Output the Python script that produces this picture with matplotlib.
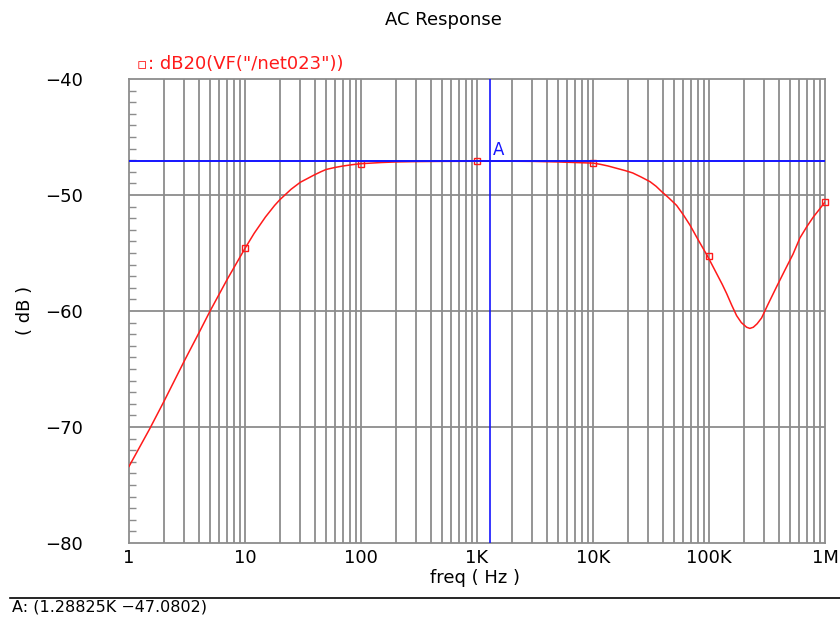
import numpy as np
import matplotlib
matplotlib.use("Agg")
import matplotlib.pyplot as plt
from matplotlib.ticker import FixedLocator, NullFormatter, NullLocator

# ---- data ----
freq_hz = [1, 1.5, 2, 3, 4, 5, 7, 10, 12, 15, 18, 20, 25, 30, 35, 39, 45, 50,
           60, 70, 85, 100, 150, 200, 300, 500,
           1000, 2000, 3000, 5000, 7000, 10000, 11500, 13500, 16000, 19000,
           22000, 26000, 31000, 35000, 39000, 45000, 52600, 60000, 68600,
           80000, 97500, 116000, 130000, 142000, 157000, 173000, 190000,
           211000, 225000, 241000, 260000, 284000, 320000, 383000, 450000,
           530000, 608000, 700000, 793000, 900000, 1000000]
mag_db = [-73.4, -70.2, -67.8, -64.3, -61.9, -60.0, -57.3, -54.6, -53.3, -51.9,
          -50.9, -50.4, -49.5, -48.9, -48.55, -48.3, -48.0, -47.8,
          -47.62, -47.5, -47.38, -47.3, -47.2, -47.15, -47.12, -47.1,
          -47.09, -47.09, -47.1, -47.15, -47.2, -47.25, -47.35, -47.5, -47.7,
          -47.9, -48.1, -48.45, -48.85, -49.25, -49.7, -50.25, -50.9, -51.7,
          -52.6, -53.8, -55.3, -56.75, -57.7, -58.5, -59.5, -60.4, -61.0,
          -61.4, -61.5, -61.4, -61.1, -60.6, -59.5, -57.9, -56.5,
          -55.1, -53.7, -52.7, -51.9, -51.2, -50.6]
marker_freq = [10, 100, 1000, 10000, 100000, 1000000]
marker_db = [-54.6, -47.3, -47.1, -47.25, -55.3, -50.6]

cursor_freq = 1288.25
cursor_db = -47.0802

xtick_vals = [1, 10, 100, 1e3, 1e4, 1e5, 1e6]
xtick_labels = ["1", "10", "100", "1K", "10K", "100K", "1M"]
ytick_vals = [-80, -70, -60, -50, -40]
ytick_labels = ["\u221280", "\u221270", "\u221260", "\u221250", "\u221240"]

grid_c = "#8c8c8c"
W, H = 840, 617
fig = plt.figure(figsize=(W / 100, H / 100), dpi=100)
ax = fig.add_axes([129 / W, 1 - 543 / H, 696 / W, 464 / H])
ax.set_xscale("log")
ax.set_xlim(1, 1e6)
ax.set_ylim(-80, -40)

# grid
minor_x = [m * 10 ** d for d in range(0, 6) for m in range(2, 10)]
for xv in minor_x + xtick_vals[1:-1]:
    ax.axvline(xv, color=grid_c, lw=1.3, zorder=1)
for yv in ytick_vals[1:-1]:
    ax.axhline(yv, color=grid_c, lw=1.3, zorder=1)

ax.plot(freq_hz, mag_db, color="#ff1a1a", lw=1.1, zorder=3)
ax.plot(marker_freq, marker_db, ls="none", marker="s", ms=4.5, mfc="none",
        mec="#ff1a1a", mew=1.0, zorder=4, clip_on=False)

ax.axhline(cursor_db, color="#1414ff", lw=1.4, zorder=5)
ax.axvline(cursor_freq, color="#1414ff", lw=1.2, zorder=5)
ax.text(cursor_freq * 1.06, cursor_db + 0.2, "A", color="#1414ff",
        fontsize=12, ha="left", va="bottom", zorder=6)

for s in ax.spines.values():
    s.set_color(grid_c)
    s.set_linewidth(1.3)

ax.xaxis.set_major_locator(FixedLocator(xtick_vals))
ax.set_xticklabels(xtick_labels)
ax.xaxis.set_minor_locator(NullLocator())
ax.xaxis.set_minor_formatter(NullFormatter())
ax.tick_params(axis="x", which="major", length=0, pad=4, labelsize=13)
ax.yaxis.set_major_locator(FixedLocator(ytick_vals))
ax.set_yticklabels(ytick_labels)
ax.yaxis.set_minor_locator(FixedLocator(np.arange(-80, -40, 1)))
ax.tick_params(axis="y", which="major", length=0, pad=33, labelsize=13)
ax.tick_params(axis="y", which="minor", direction="in", length=5, width=1,
               color=grid_c)

fig.text(443 / W, 1 - 20 / H, "AC Response", ha="center", va="center",
         fontsize=13)
fig.text(137 / W, 1 - 65 / H, "\u25ab", color="#ff1a1a", ha="left",
         va="center", fontsize=11)
fig.text(148 / W, 1 - 64 / H, ': dB20(VF("/net023"))', color="#ff1a1a",
         ha="left", va="center", fontsize=13)
fig.text(25 / W, 1 - 310 / H, "( dB )", rotation=90, ha="center",
         va="center", fontsize=13)
fig.text(475 / W, 1 - 578 / H, "freq ( Hz )", ha="center", va="center",
         fontsize=13)
fig.add_artist(plt.Line2D([10 / W, 1.0], [1 - 598 / H, 1 - 598 / H],
                          color="black", lw=1.2, transform=fig.transFigure))
fig.text(12 / W, 1 - 607 / H, "A: (1.28825K \u221247.0802)", ha="left",
         va="center", fontsize=11.5)

fig.savefig("out.png", dpi=100)
